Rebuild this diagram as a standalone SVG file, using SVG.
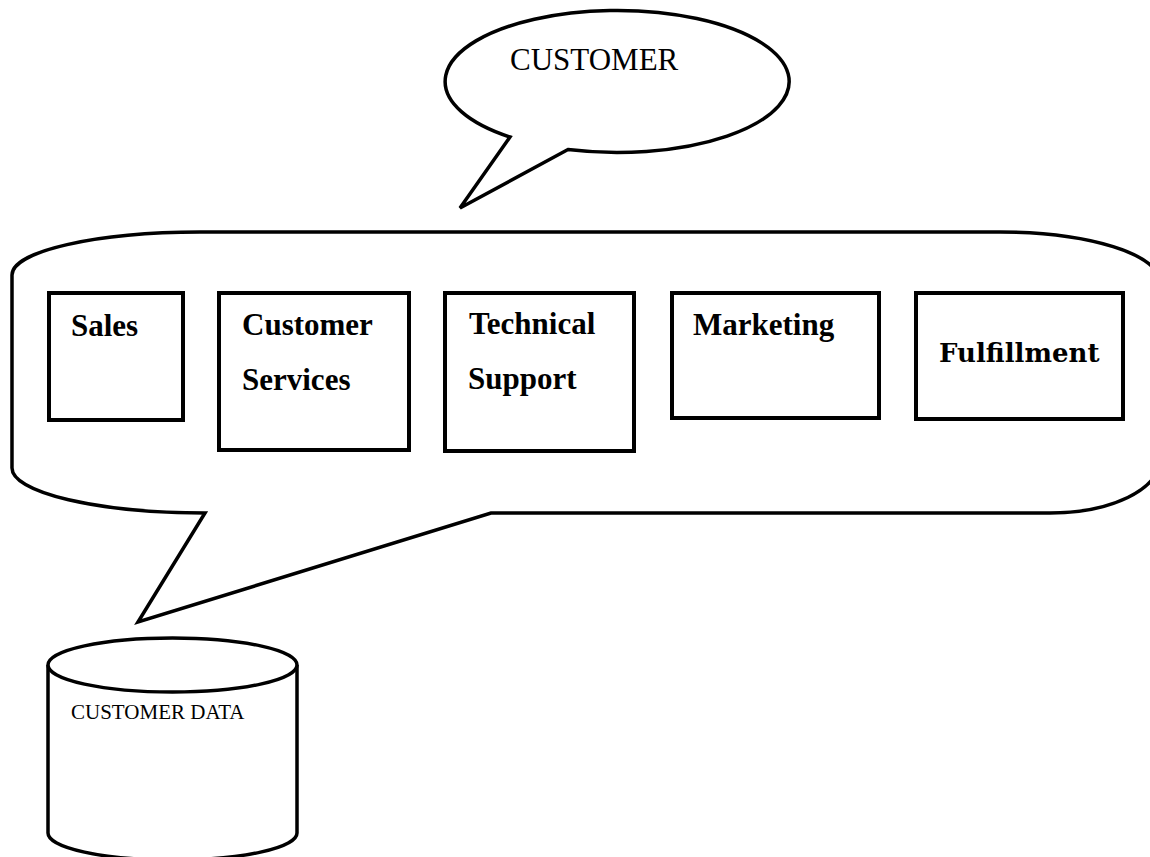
<svg xmlns="http://www.w3.org/2000/svg" width="1150" height="857" viewBox="0 0 1150 857">
<style>
.sh{fill:#fff;stroke:#000;stroke-width:3.5;stroke-linejoin:miter}
.bx{fill:#fff;stroke:#000;stroke-width:4}
.lb{font-family:"Liberation Serif","Times New Roman",serif;font-weight:bold;font-size:31px;fill:#000}
.tx{font-family:"Liberation Serif","Times New Roman",serif;fill:#000}
</style>
<rect width="1150" height="857" fill="#fff"/>
<g id="customer">
<path class="sh" d="M 510 137 A 172 71 0 1 1 568 149.5 L 460 208 Z"/>
<text class="tx" x="510" y="70" font-size="31">CUSTOMER</text>
</g>
<g id="departments">
<path class="sh" d="M 200 232 L 1000 232 A 160 50 0 0 1 1160 282 L 1160 460 A 110 53 0 0 1 1050 513 L 491 513 L 138 622 L 205 513 A 193 45 0 0 1 12 468 L 12 275 A 188 43 0 0 1 200 232 Z"/>
</g>
<g id="sales">
<rect class="bx" x="49" y="293" width="134" height="127"/>
<text class="lb" x="71" y="336">Sales</text>
</g>
<g id="customer-services">
<rect class="bx" x="219" y="293" width="190" height="157"/>
<text class="lb" x="242" y="335">Customer</text>
<text class="lb" x="242" y="390">Services</text>
</g>
<g id="technical-support">
<rect class="bx" x="445" y="293" width="189" height="158"/>
<text class="lb" x="469" y="334">Technical</text>
<text class="lb" x="468" y="389">Support</text>
</g>
<g id="marketing">
<rect class="bx" x="672" y="293" width="207" height="125"/>
<text class="lb" x="693" y="335">Marketing</text>
</g>
<g id="fulfillment">
<rect class="bx" x="916" y="293" width="207" height="126"/>
<text x="939" y="362" font-family="'DejaVu Serif',serif" font-weight="bold" font-size="26" fill="#000">Fulfillment</text>
</g>
<g id="customer-data">
<path class="sh" d="M 48 665 L 48 833 A 124.5 27 0 0 0 297 833 L 297 665"/>
<ellipse class="sh" cx="172.5" cy="665" rx="124.5" ry="27"/>
<text class="tx" x="71" y="719" font-size="21">CUSTOMER DATA</text>
</g>
<g id="connectors"></g>
</svg>
